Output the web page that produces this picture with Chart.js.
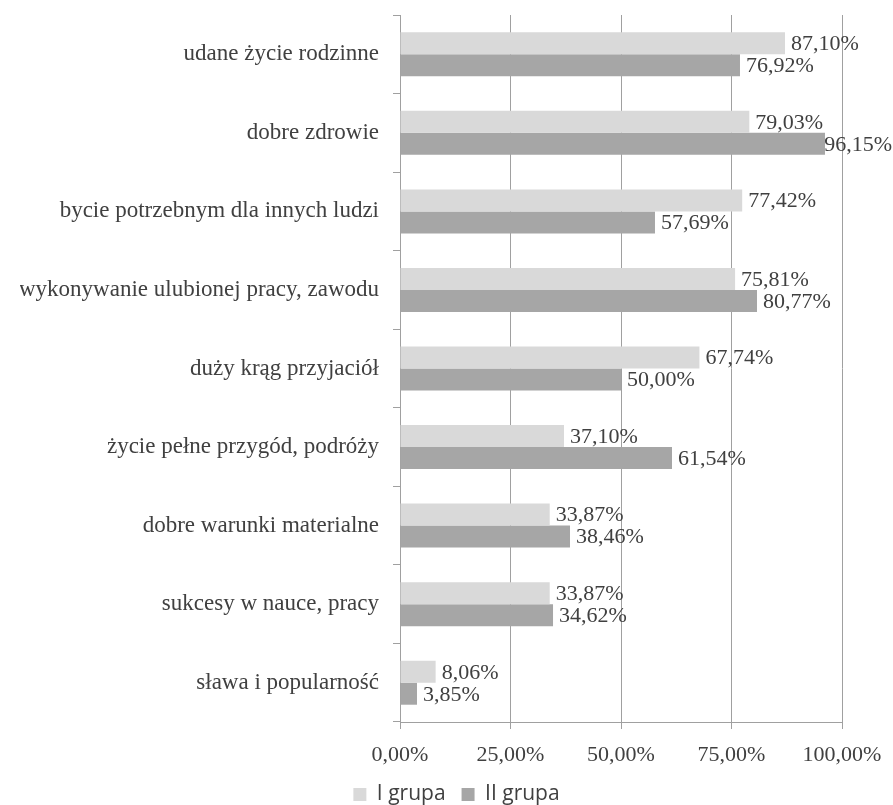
<!DOCTYPE html>
<html>
<head>
<meta charset="utf-8">
<script src="https://cdn.jsdelivr.net/npm/chart.js@4/dist/chart.umd.min.js"></script>
<style>
  html, body { margin: 0; padding: 0; background: #fff; }
  #wrap { width: 893px; height: 805px; }
</style>
</head>
<body>
<div id="wrap"><canvas id="chart"></canvas></div>
<script>
var categories = [
    'udane życie rodzinne',
    'dobre zdrowie',
    'bycie potrzebnym dla innych ludzi',
    'wykonywanie ulubionej pracy, zawodu',
    'duży krąg przyjaciół',
    'życie pełne przygód, podróży',
    'dobre warunki materialne',
    'sukcesy w nauce, pracy',
    'sława i popularność'
];
var grupa1 = [87.10, 79.03, 77.42, 75.81, 67.74, 37.10, 33.87, 33.87, 8.06];
var grupa2 = [76.92, 96.15, 57.69, 80.77, 50.00, 61.54, 38.46, 34.62, 3.85];
var seriesNames = ['I grupa', 'II grupa'];

var serif = "'Liberation Serif', 'Times New Roman', serif";
var textColor = '#404040';
var gridColor = '#a0a0a0';

function pct(v) {
    return Number(v).toFixed(2).replace('.', ',') + '%';
}

// value labels at bar ends, pushed back inside the canvas when they run off the right edge
var barLabels = {
    id: 'barLabels',
    afterDatasetsDraw: function (chart) {
        var ctx = chart.ctx;
        ctx.save();
        ctx.font = '22px ' + serif;
        ctx.fillStyle = textColor;
        ctx.textBaseline = 'middle';
        chart.data.datasets.forEach(function (ds, i) {
            var meta = chart.getDatasetMeta(i);
            meta.data.forEach(function (bar, j) {
                var txt = pct(ds.data[j]);
                var w = ctx.measureText(txt).width;
                var x = bar.x + 6;
                if (x + w > chart.width - 1) x = chart.width - 1 - w;
                ctx.fillText(txt, x, bar.y + 1);
            });
        });
        ctx.restore();
    }
};

// fixed width for a vertical axis, without the extra top/bottom room for its labels
function fixWidth(w) {
    return function (scale) {
        scale.width = w;
        scale.paddingTop = 0;
        scale.paddingBottom = 0;
    };
}

var ctx = document.getElementById('chart').getContext('2d');
new Chart(ctx, {
    type: 'bar',
    data: {
        labels: categories,
        datasets: [{
            label: seriesNames[0],
            data: grupa1,
            backgroundColor: '#d9d9d9'
        }, {
            label: seriesNames[1],
            data: grupa2,
            backgroundColor: '#a6a6a6'
        }]
    },
    options: {
        indexAxis: 'y',
        responsive: true,
        maintainAspectRatio: false,
        animation: false,
        categoryPercentage: 0.56,
        barPercentage: 1.0,
        layout: { padding: { top: 15, right: 0, left: 20, bottom: -10 } },
        scales: {
            x: {
                min: 0,
                max: 100,
                ticks: {
                    stepSize: 25,
                    color: textColor,
                    padding: 13,
                    font: { family: serif, size: 22 },
                    callback: function (v) { return pct(v); }
                },
                grid: { color: gridColor, tickLength: 7, lineWidth: 1 },
                border: { color: gridColor },
                afterFit: function (scale) {
                    scale.height = 46;
                    scale.paddingLeft = 0;
                    scale.paddingRight = 0;
                }
            },
            y: {
                ticks: {
                    color: textColor,
                    padding: 14,
                    font: { family: serif, size: 23 }
                },
                grid: { drawOnChartArea: false, color: gridColor, tickLength: 7, offset: true },
                border: { color: gridColor },
                afterFit: fixWidth(380)
            },
            // empty right-hand strip so the value labels have room past 100%
            yRight: {
                type: 'category',
                position: 'right',
                grid: { display: false },
                border: { display: false },
                ticks: { display: false },
                afterFit: fixWidth(51)
            }
        },
        plugins: {
            legend: {
                position: 'bottom',
                labels: {
                    boxWidth: 13,
                    boxHeight: 13,
                    padding: 16,
                    color: '#404040',
                    font: { family: "'Open Sans', sans-serif", size: 21 }
                }
            },
            tooltip: { enabled: false }
        }
    },
    plugins: [barLabels]
});
</script>
</body>
</html>
